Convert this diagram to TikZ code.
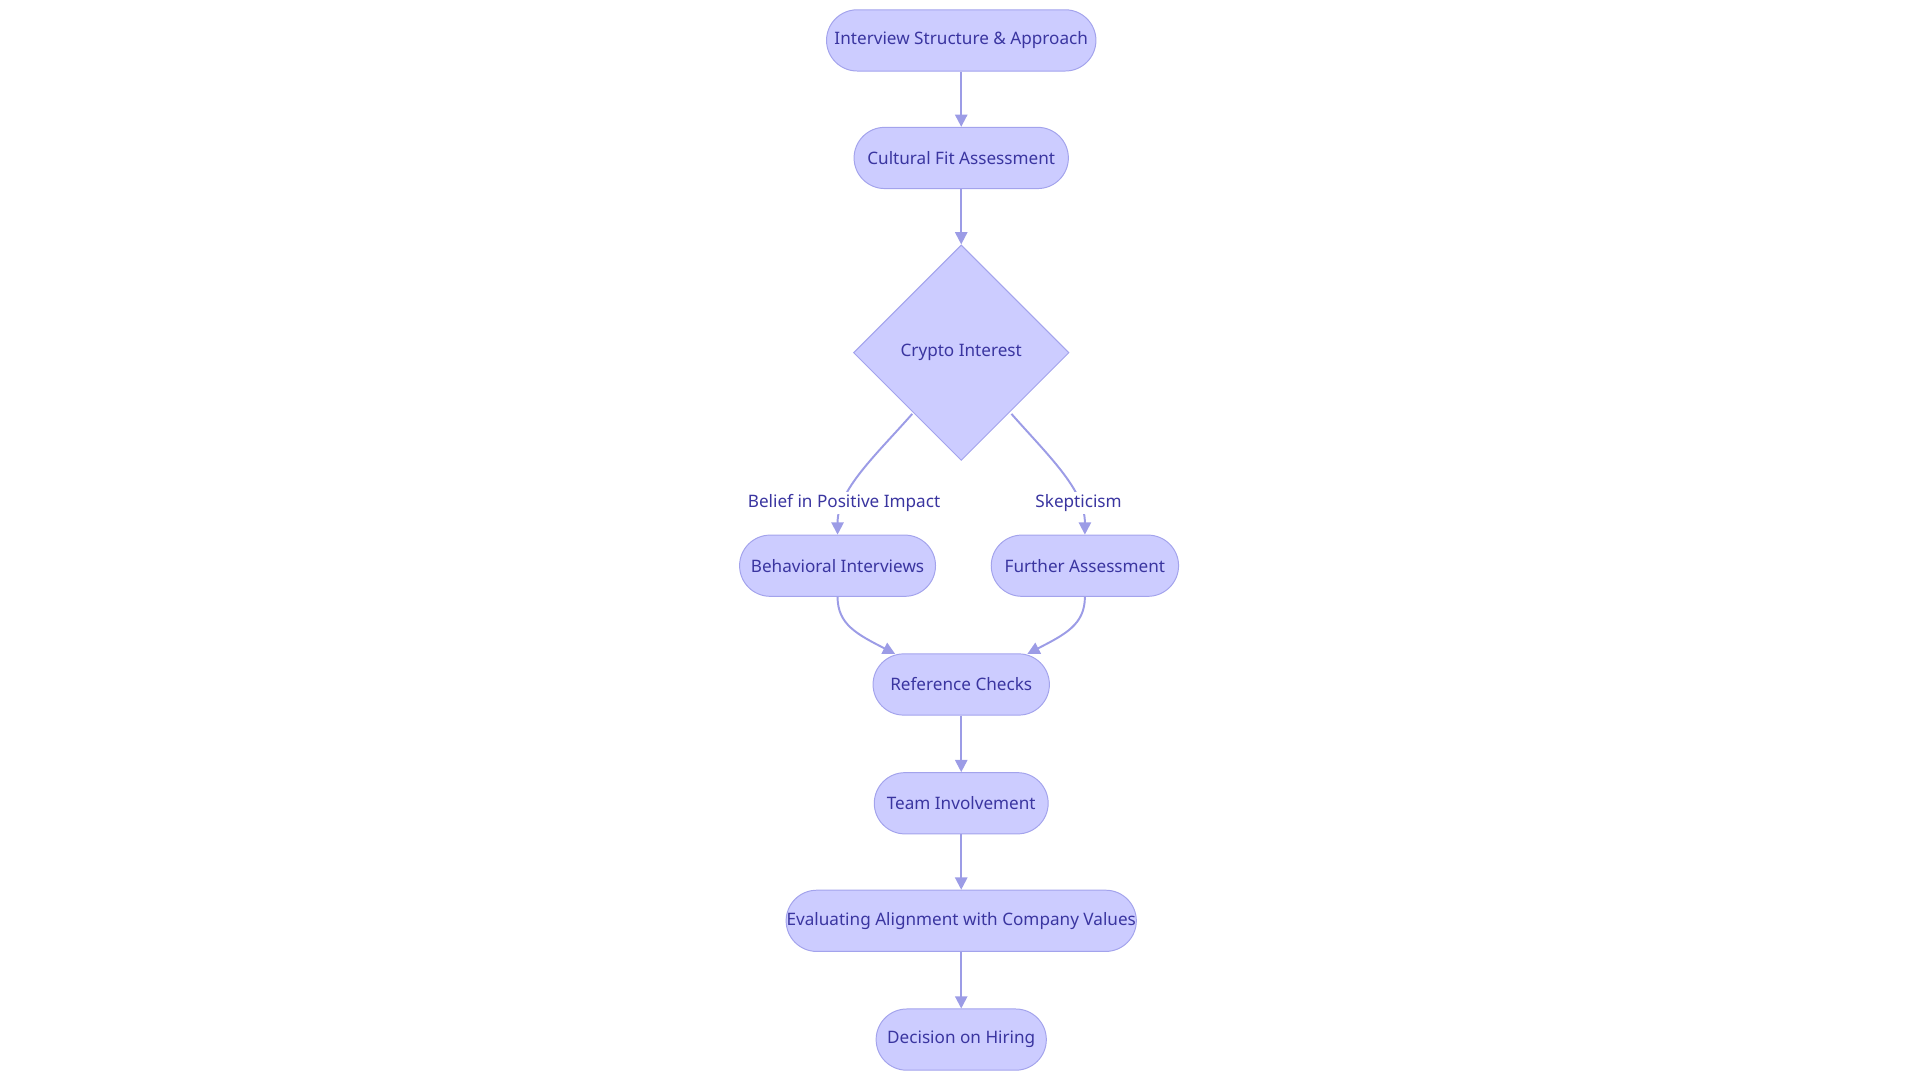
\documentclass[tikz,border=0pt]{standalone}
\usepackage{fontspec}
\setmainfont{Noto Sans}
\usetikzlibrary{shapes.geometric,arrows.meta,positioning}
\definecolor{boxfill}{HTML}{CCCCFF}
\definecolor{boxline}{HTML}{A3A3EC}
\definecolor{boxtext}{HTML}{3A35A0}
\definecolor{linkline}{HTML}{9C9CE6}
\tikzset{
  pill/.style={draw=boxline, fill=boxfill, rounded corners=12.5pt, minimum height=25pt,
    text=boxtext, font=\fontsize{7}{8}\selectfont, inner sep=0pt},
  decide/.style={draw=boxline, fill=boxfill, diamond, minimum width=88pt, minimum height=88pt,
    text=boxtext, font=\fontsize{7}{8}\selectfont, inner sep=0pt},
  link/.style={draw=linkline, thick, -{Triangle[length=5pt,width=5pt]}},
  tag/.style={text=boxtext, font=\fontsize{7}{8}\selectfont, fill=white, inner sep=1pt}
}
\begin{document}
\begin{tikzpicture}[x=0.5pt,y=-0.5pt]
	\useasboundingbox (0,0) rectangle (1568,882);
	\node[pill, minimum width=110pt] (isa) at (785,33) {Interview Structure \& Approach};
	\node[pill, minimum width=87.5pt] (cfa) at (785,129) {Cultural Fit Assessment};
	\node[decide] (ci) at (785,288) {Crypto Interest};
	\node[pill, minimum width=80pt] (bi) at (684,462) {Behavioral Interviews};
	\node[pill, minimum width=76.5pt] (fa) at (886,462) {Further Assessment};
	\node[pill, minimum width=72pt] (rc) at (785,559) {Reference Checks};
	\node[pill, minimum width=71pt] (ti) at (785,656) {Team Involvement};
	\node[pill, minimum width=143pt] (eva) at (785,752) {Evaluating Alignment with Company Values};
	\node[pill, minimum width=69.5pt] (doh) at (785,849) {Decision on Hiring};
	%% Flows
	\path[link] (isa) -- (cfa);
	\path[link] (cfa) -- (ci);
	\path[link] (745,338) .. controls (715,372) and (684,400) .. node[tag, pos=0.75] {Belief in Positive Impact} (bi);
	\path[link] (826,338) .. controls (856,372) and (886,400) .. node[tag, pos=0.75] {Skepticism} (fa);
	\path[link] (bi) .. controls (684,510) and (700,518) .. (731,534);
	\path[link] (fa) .. controls (886,510) and (870,518) .. (839,534);
	\path[link] (rc) -- (ti);
	\path[link] (ti) -- (eva);
	\path[link] (eva) -- (doh);
\end{tikzpicture}
\end{document}
